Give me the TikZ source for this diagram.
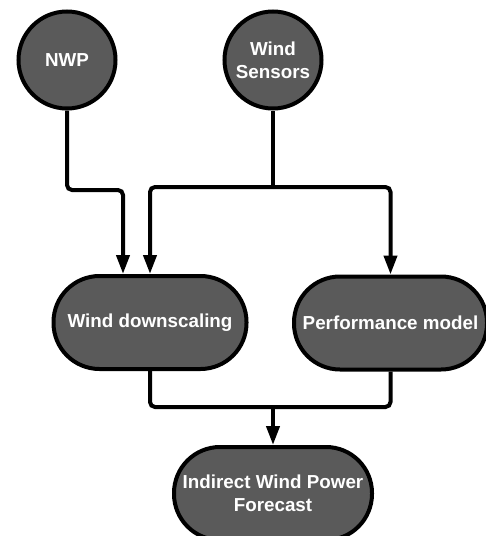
\documentclass[tikz,border=0pt]{standalone}
\usepackage{fontspec}
\setmainfont{Liberation Sans}
\usepackage{tikz}
\usetikzlibrary{shapes}
\usetikzlibrary{arrows.meta}
\usetikzlibrary{positioning}
\definecolor{nodegray}{HTML}{5A5A5A}

\begin{document}
\begin{tikzpicture}[x=1pt,y=1pt]
\tikzstyle{source}=[circle,draw=black,fill=nodegray,line width=4pt,
text=white,font=\fontsize{18.8}{23}\selectfont\bfseries,align=center,
inner sep=0pt,minimum size=97pt]
\tikzstyle{process}=[rectangle,rounded corners=46pt,draw=black,fill=nodegray,
line width=4pt,text=white,font=\fontsize{18.8}{23}\selectfont\bfseries,
align=center,inner sep=0pt,minimum width=193pt,minimum height=93pt]
\tikzstyle{flow}=[line width=4pt,rounded corners=5pt,-{Triangle[width=13pt,length=19pt]}]
\tikzstyle{wire}=[line width=4pt,rounded corners=5pt]
\useasboundingbox (0,0) rectangle (486,-536);
\node[source] (nwp) at (67,-60) {NWP};
\node[source] (sensors) [right=105pt of nwp] {Wind\\Sensors};
\node[process] (downscaling) at (150,-322.5) {Wind downscaling};
\node[process] (performance) at (390.5,-323) {Performance model};
\node[process,minimum width=198pt] (forecast) at (273,-493.5) {Indirect Wind Power\\Forecast};
\coordinate (split) at (sensors.south |- 0,-187);
\coordinate (merge) at (forecast.north |- 0,-407);
\draw[flow] (nwp.south) |- (100,-190) -| ([xshift=-27pt]downscaling.north);
\draw[wire] (sensors.south) -- (split);
\draw[flow] (split) -| (downscaling.north);
\draw[flow] (split) -| (performance.north);
\draw[wire] (downscaling.south) |- (merge);
\draw[wire] (performance.south) |- (merge);
\draw[flow] (merge) -- (forecast.north);
\end{tikzpicture}
\end{document}
